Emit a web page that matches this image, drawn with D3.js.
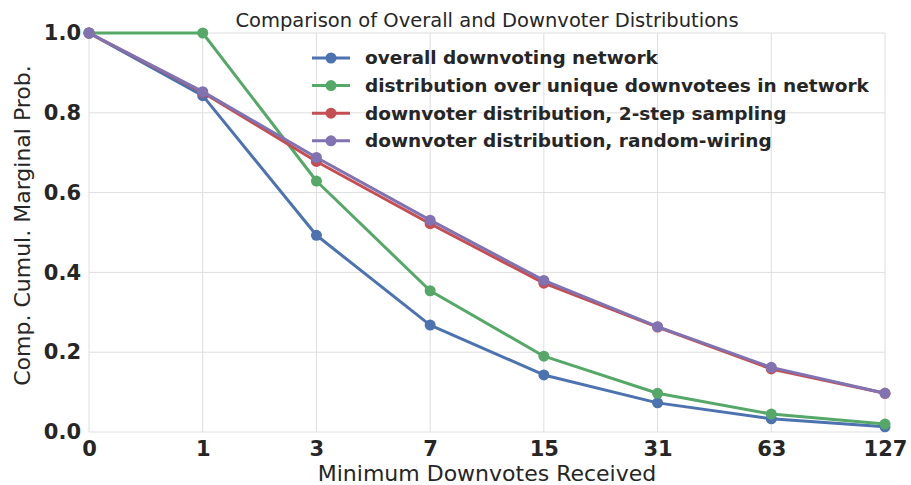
<!DOCTYPE html>
<html>
<head>
<meta charset="utf-8">
<script src="https://cdn.jsdelivr.net/npm/d3@7"></script>
<style>
  html, body { margin: 0; padding: 0; background: #fff; }
  svg { display: block; font-family: "DejaVu Sans", sans-serif; }
</style>
</head>
<body>
<svg id="chart" width="911" height="485"></svg>
<script>
// Minimum downvotes thresholds (log2-spaced categories)
const categories = ["0", "1", "3", "7", "15", "31", "63", "127"];
const yTicks = [0.0, 0.2, 0.4, 0.6, 0.8, 1.0];

// Complementary cumulative marginal probabilities
const overallNetwork   = [1.0, 0.843, 0.493, 0.268, 0.143, 0.073, 0.033, 0.013];
const uniqueDownvotees = [1.0, 1.0, 0.629, 0.354, 0.190, 0.097, 0.045, 0.020];
const twoStepSampling  = [1.0, 0.851, 0.678, 0.522, 0.373, 0.263, 0.158, 0.097];
const randomWiring     = [1.0, 0.853, 0.688, 0.531, 0.380, 0.264, 0.162, 0.097];

const seriesNames = [
  "overall downvoting network",
  "distribution over unique downvotees in network",
  "downvoter distribution, 2-step sampling",
  "downvoter distribution, random-wiring"
];
const seriesValues = [overallNetwork, uniqueDownvotees, twoStepSampling, randomWiring];
const seriesColors = ["#4C72B0", "#55A868", "#C44E52", "#8172B2"];

const svg = d3.select("#chart");
const margin = { left: 89, right: 26, top: 33, bottom: 53 };
const W = 911, H = 485;

const x = d3.scalePoint().domain(categories).range([margin.left, W - margin.right]);
const y = d3.scaleLinear().domain([0, 1]).range([H - margin.bottom, margin.top]);

const textColor = "#262626";
const gridColor = "#dedede";
const cx = (x(categories[0]) + x(categories[categories.length - 1])) / 2;

// Grid lines
const grid = svg.append("g");
grid.selectAll("line.vx").data(categories).enter().append("line")
  .attr("x1", d => x(d)).attr("x2", d => x(d))
  .attr("y1", y(0)).attr("y2", y(1))
  .attr("stroke", gridColor).attr("stroke-width", 1);
grid.selectAll("line.hy").data(yTicks).enter().append("line")
  .attr("x1", x(categories[0])).attr("x2", x(categories[categories.length - 1]))
  .attr("y1", d => y(d)).attr("y2", d => y(d))
  .attr("stroke", gridColor).attr("stroke-width", 1);

// Axes (labels only; ticks hidden)
const xAxis = d3.axisBottom(x).tickSize(0).tickPadding(9);
const gx = svg.append("g").attr("transform", `translate(0,${y(0)})`).call(xAxis);
gx.select(".domain").remove();
gx.selectAll("text")
  .attr("fill", textColor).attr("font-size", 21).attr("font-weight", "bold")
  .attr("font-family", "DejaVu Sans, sans-serif");

const yAxis = d3.axisLeft(y).tickValues(yTicks).tickFormat(d3.format(".1f")).tickSize(0).tickPadding(8);
const gy = svg.append("g").attr("transform", `translate(${x(categories[0])},0)`).call(yAxis);
gy.select(".domain").remove();
gy.selectAll("text")
  .attr("fill", textColor).attr("font-size", 21).attr("font-weight", "bold")
  .attr("font-family", "DejaVu Sans, sans-serif");

// Series lines and markers
const line = d3.line().x((d, i) => x(categories[i])).y(d => y(d));
seriesValues.forEach((vals, si) => {
  const g = svg.append("g");
  g.append("path").datum(vals)
    .attr("d", line).attr("fill", "none")
    .attr("stroke", seriesColors[si]).attr("stroke-width", 3)
    .attr("stroke-linejoin", "round");
  g.selectAll("circle").data(vals).enter().append("circle")
    .attr("cx", (d, i) => x(categories[i])).attr("cy", d => y(d))
    .attr("r", 5.5).attr("fill", seriesColors[si]);
});

// Legend
const legend = svg.append("g").attr("transform", "translate(312,58)");
seriesNames.forEach((name, i) => {
  const row = legend.append("g").attr("transform", `translate(0,${i * 27.6})`);
  row.append("line").attr("x1", 0).attr("x2", 38).attr("y1", 0).attr("y2", 0)
    .attr("stroke", seriesColors[i]).attr("stroke-width", 3);
  row.append("circle").attr("cx", 19).attr("cy", 0).attr("r", 5.5).attr("fill", seriesColors[i]);
  row.append("text").attr("x", 53).attr("y", 0).attr("dy", "0.35em")
    .attr("fill", textColor).attr("font-size", 18.5).attr("font-weight", "bold")
    .text(name);
});

// Title and axis labels
svg.append("text").attr("x", cx).attr("y", 27)
  .attr("text-anchor", "middle").attr("fill", textColor).attr("font-size", 19.5)
  .text("Comparison of Overall and Downvoter Distributions");

svg.append("text").attr("x", cx).attr("y", 481)
  .attr("text-anchor", "middle").attr("fill", textColor).attr("font-size", 22)
  .text("Minimum Downvotes Received");

svg.append("text")
  .attr("transform", `translate(30,${(y(0) + y(1)) / 2 - 7}) rotate(-90)`)
  .attr("text-anchor", "middle").attr("fill", textColor).attr("font-size", 22)
  .text("Comp. Cumul. Marginal Prob.");
</script>
</body>
</html>
